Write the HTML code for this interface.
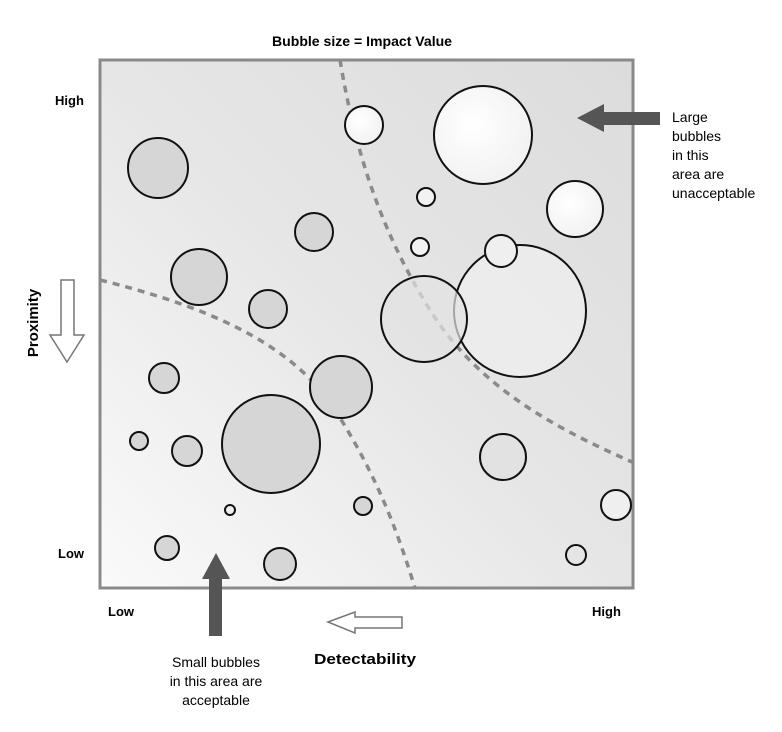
<!DOCTYPE html>
<html><head><style>
body{margin:0;background:#fff;}
svg text{font-family:"Liberation Sans Narrow","Liberation Sans",sans-serif;}
</style></head><body>
<svg width="782" height="727" viewBox="0 0 782 727" xmlns="http://www.w3.org/2000/svg">
<defs>
<linearGradient id="bg" x1="0" y1="1" x2="1" y2="0">
<stop offset="0" stop-color="#fafafa"/><stop offset="0.5" stop-color="#e6e6e6"/><stop offset="1" stop-color="#dcdcdc"/>
</linearGradient>
<radialGradient id="wb" cx="0.4" cy="0.4" r="0.7"><stop offset="0" stop-color="#fff"/><stop offset="1" stop-color="#f0f0f0"/></radialGradient>
</defs>
<text x="272" y="46" font-size="14" font-weight="bold" textLength="180" lengthAdjust="spacingAndGlyphs">Bubble size = Impact Value</text>
<rect x="100" y="60" width="533" height="528" fill="url(#bg)" stroke="#8a8a8a" stroke-width="3"/>
<path d="M340 60 C355 150 380 230 430 310 S560 430 632 462" fill="none" stroke="#8a8a8a" stroke-width="3.5" stroke-dasharray="7,6"/>
<path d="M100 280 C200 305 290 340 335 410 S400 540 415 588" fill="none" stroke="#8a8a8a" stroke-width="3.5" stroke-dasharray="7,6"/>
<g stroke="#111" stroke-width="2">
<circle cx="364" cy="125" r="19" fill="url(#wb)"/>
<circle cx="483" cy="135" r="49" fill="url(#wb)"/>
<circle cx="158" cy="168" r="30" fill="#d6d6d6"/>
<circle cx="426" cy="197" r="9" fill="#f2f2f2"/>
<circle cx="575" cy="209" r="28" fill="url(#wb)"/>
<circle cx="314" cy="232" r="19" fill="#d6d6d6"/>
<circle cx="420" cy="247" r="9" fill="#f2f2f2"/>
<circle cx="520" cy="311" r="66" fill="#ededed" fill-opacity="0.8"/>
<circle cx="501" cy="251" r="16" fill="#efefef"/>
<circle cx="424" cy="319" r="43" fill="#e2e2e2" fill-opacity="0.7"/>
<circle cx="199" cy="277" r="28" fill="#d6d6d6"/>
<circle cx="268" cy="309" r="19" fill="#d6d6d6"/>
<circle cx="164" cy="378" r="15" fill="#d6d6d6"/>
<circle cx="341" cy="387" r="31" fill="#d6d6d6"/>
<circle cx="139" cy="441" r="9" fill="#d6d6d6"/>
<circle cx="187" cy="451" r="15" fill="#d6d6d6"/>
<circle cx="271" cy="444" r="49" fill="#d6d6d6"/>
<circle cx="503" cy="457" r="23" fill="#e2e2e2"/>
<circle cx="363" cy="506" r="9" fill="#d6d6d6"/>
<circle cx="616" cy="505" r="15" fill="#efefef"/>
<circle cx="230" cy="510" r="5" fill="#eee"/>
<circle cx="167" cy="548" r="12" fill="#d6d6d6"/>
<circle cx="280" cy="564" r="16" fill="#d6d6d6"/>
<circle cx="576" cy="555" r="10" fill="#e6e6e6"/>
</g>
<polygon points="577,118 604,104 604,112 660,112 660,125 604,125 604,132" fill="#555"/>
<polygon points="216,553 230,579 222,579 222,636 209,636 209,579 202,579" fill="#555"/>
<polygon points="61,280 74,280 74,335 84,335 67,362 50,335 61,335" fill="#fff" stroke="#777" stroke-width="1.5"/>
<polygon points="328,622 355,612 355,617 402,617 402,628 355,628 355,633" fill="#fff" stroke="#777" stroke-width="1.5"/>
<g font-size="13" font-weight="bold">
<text x="55" y="105">High</text>
<text x="58" y="558">Low</text>
<text x="108" y="616">Low</text>
<text x="592" y="616">High</text>
<text x="314" y="664" font-size="15" textLength="102" lengthAdjust="spacingAndGlyphs">Detectability</text>
<text transform="translate(38,323) rotate(-90)" text-anchor="middle" font-size="15">Proximity</text>
</g>
<g font-size="14">
<text x="672" y="122">Large</text>
<text x="672" y="141">bubbles</text>
<text x="672" y="160">in this</text>
<text x="672" y="179">area are</text>
<text x="672" y="198">unacceptable</text>
<text x="216" y="667" text-anchor="middle">Small bubbles</text>
<text x="216" y="686" text-anchor="middle">in this area are</text>
<text x="216" y="705" text-anchor="middle">acceptable</text>
</g>
</svg>
</body></html>
